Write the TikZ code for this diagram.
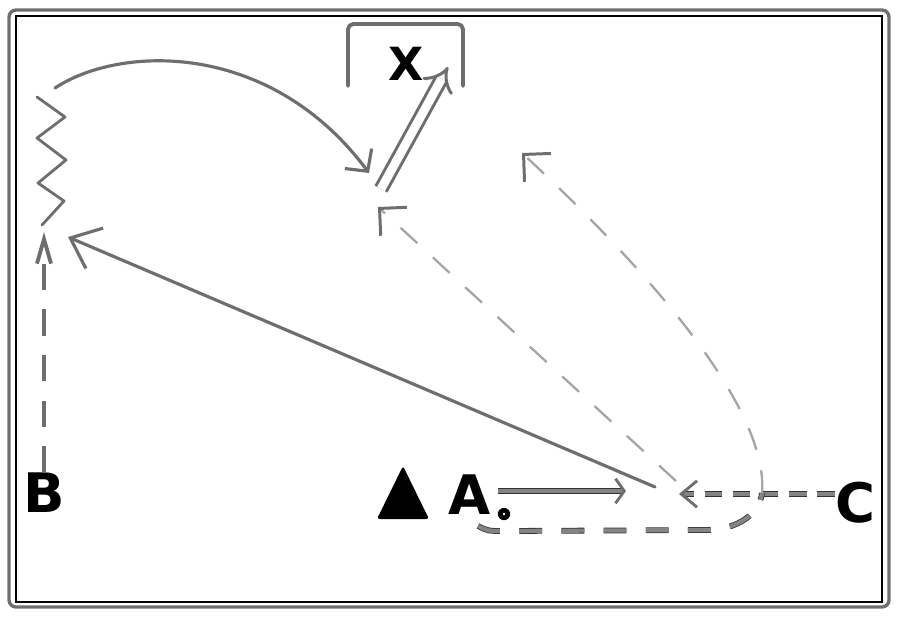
\documentclass[tikz,border=0pt]{standalone}
\usepackage{fontspec}
\setmainfont{DejaVu Sans}
\usepackage{tikz}
\usetikzlibrary{arrows.meta}
\definecolor{penGray}{RGB}{110,110,110}
\definecolor{dashGray}{RGB}{165,165,165}

\tikzset{
  letter/.style={font=\bfseries\fontsize{31}{31}\selectfont, inner sep=0pt},
  pen/.style={draw=penGray, line width=1.8pt, line cap=round, line join=round},
  faint/.style={draw=dashGray, line width=1.3pt, dash pattern=on 13pt off 12pt},
  edged/.style={draw=black!80, line width=0.45pt, double=penGray!85, double distance=2.4pt},
  hook/.style={-{Straight Barb[length=11pt, width=22pt, line width=1.7pt, color=penGray]}}
}

\begin{document}
\begin{tikzpicture}[x=0.02cm, y=-0.02cm]
\useasboundingbox (0,0) rectangle (900,620);

% double frame
\draw[penGray, line width=1.9pt, rounded corners=4pt] (9,10) rectangle (889,607);
\draw[black, line width=0.6pt] (16,16) rectangle (882,602);

% open box round X
\draw[pen, line width=2.2pt, rounded corners=3pt] (348,86) -- (348,24) -- (463,24) -- (463,86);
\node[letter, font=\bfseries\fontsize{26}{26}\selectfont] (X) at (406,64) {X};

% letters
\node[letter] (B) at (44,493) {B};
\node[letter] (A) at (470,495) {A};
\node[letter] (C) at (855,503) {C};

% triangle and the small ring
\fill[rounded corners=1.5pt] (403,466) -- (429,519) -- (377,519) -- cycle;
\node[circle, fill=black, inner sep=0pt, minimum size=7pt] (dotA) at (504,514) {};
\fill[white] (dotA) circle (0.8pt);

% end points
\coordinate (hub) at (679,494);
\coordinate (hubL) at (655,487);
\coordinate (hubU) at (676,481);
\coordinate (knee) at (762,493);
\coordinate (springTop) at (55,88);
\coordinate (springBot) at (44,232);
\coordinate (pointer) at (369,173);
\coordinate (hookA) at (378,207);
\coordinate (hookB) at (522,153);
\coordinate (xFoot) at (381,189);
\coordinate (xTip) at (448,67);
\coordinate (aTip) at (626,491);
\coordinate (tailA) at (478,526);
\coordinate (leftTip) at (68,237);

% spring
\draw[pen, line width=1.6pt] (42,225) -- (64,201) -- (38,183) -- (66,160) -- (37,138) -- (65,117) -- (37,97);
\draw[pen, -{Straight Barb[length=9pt, width=19pt]}] (springTop) .. controls (120,45) and (270,40) .. (pointer);

% double arrow up to X
\draw[penGray, line width=1.7pt, double=white, double distance=5pt, -{Implies}] (xFoot) -- (xTip);

% B up to the spring
\draw[pen, line width=2.2pt, line cap=butt, dash pattern=on 15pt off 11pt,
  -{Straight Barb[length=14pt, width=8pt]}] (B.north) -- (springBot);

% long solid arrow
\draw[pen, -{Straight Barb[length=15pt, width=25pt]}] (hubL) -- (leftTip);

% A and C arrows
\draw[edged, shorten <=4pt, -{Straight Barb[length=5pt, width=14pt, line width=1.6pt, color=penGray]}] (A.east |- aTip) -- (aTip);
\draw[edged, dash pattern=on 10pt off 6pt,
  -{Straight Barb[length=9pt, width=15pt, line width=1.6pt, color=penGray]}] (C.west |- hub) -- (hub);

% dashed returns
\draw[faint, hook] (hubU) -- (hookA);
\draw[edged, dash pattern=on 13pt off 11pt] (tailA) .. controls (488,531) .. (505,531) -- (705,530)
  .. controls (740,530) and (760,512) .. (knee);
\draw[faint, hook] (knee) .. controls (768,420) and (680,300) .. (hookB);
\end{tikzpicture}
\end{document}
